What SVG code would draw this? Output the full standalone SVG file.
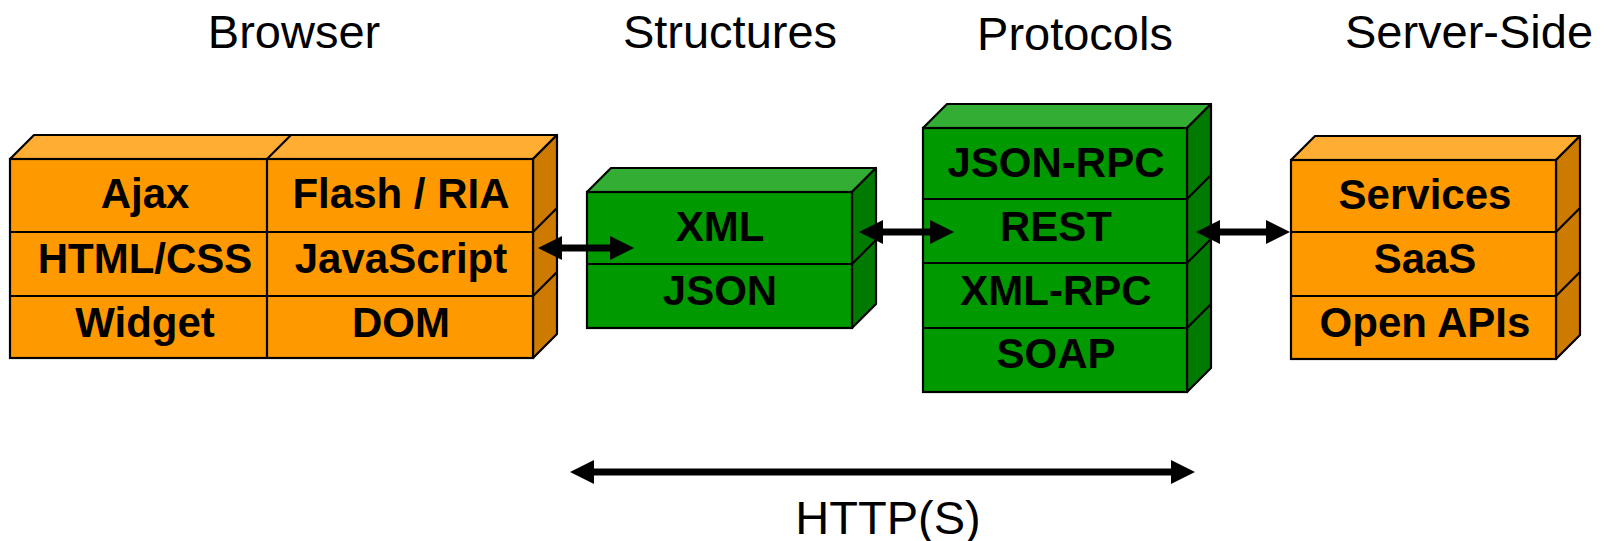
<svg xmlns="http://www.w3.org/2000/svg" width="1606" height="541" viewBox="0 0 1606 541">
  <style>
    text { font-family: "Liberation Sans", Arial, sans-serif; fill: #000; }
    .hdr { font-size: 47px; text-anchor: middle; }
    .lbl { font-size: 42px; font-weight: bold; text-anchor: middle; }
    .ln { stroke: #000; stroke-width: 2.2; fill: none; }
    .o-front { fill: #FF9900; stroke: #000; stroke-width: 2.2; }
    .o-top { fill: #FFAD33; stroke: #000; stroke-width: 2.2; stroke-linejoin: round; }
    .o-side { fill: #CC7A00; stroke: #000; stroke-width: 2.2; stroke-linejoin: round; }
    .g-front { fill: #009900; stroke: #000; stroke-width: 2.2; }
    .g-top { fill: #33AD33; stroke: #000; stroke-width: 2.2; stroke-linejoin: round; }
    .g-side { fill: #007A00; stroke: #000; stroke-width: 2.2; stroke-linejoin: round; }
    .arrow { stroke: #000; stroke-width: 7; fill: none; marker-start: url(#head); marker-end: url(#head); }
  </style>
  <defs>
    <marker id="head" markerUnits="userSpaceOnUse" markerWidth="24" markerHeight="24" refX="0" refY="12" orient="auto-start-reverse" overflow="visible">
      <path d="M0,0 L24,12 L0,24 Z" fill="#000"/>
    </marker>
  </defs>

  <rect width="1606" height="541" fill="#fff"/>

  <!-- column headings -->
  <g id="headings">
    <text class="hdr" x="294" y="48">Browser</text>
    <text class="hdr" x="730" y="48">Structures</text>
    <text class="hdr" x="1075" y="50">Protocols</text>
    <text class="hdr" x="1469" y="48">Server-Side</text>
  </g>

  <!-- Browser block -->
  <g id="browser">
    <polygon class="o-top" points="10,159 34,135 557,135 533,159"/>
    <polygon class="o-side" points="533,159 557,135 557,334 533,358"/>
    <rect class="o-front" x="10" y="159" width="523" height="199"/>
    <path class="ln" d="M10,232 H533 M10,296 H533 M267,159 V358 M267,159 L291,135 M533,232 L557,208 M533,296 L557,272"/>
    <text class="lbl" x="145" y="208">Ajax</text>
    <text class="lbl" x="401" y="208">Flash / RIA</text>
    <text class="lbl" x="145" y="273">HTML/CSS</text>
    <text class="lbl" x="401" y="273">JavaScript</text>
    <text class="lbl" x="145" y="337">Widget</text>
    <text class="lbl" x="401" y="337">DOM</text>
  </g>

  <!-- Structures block -->
  <g id="structures">
    <polygon class="g-top" points="587,192 611,168 876,168 852,192"/>
    <polygon class="g-side" points="852,192 876,168 876,304 852,328"/>
    <rect class="g-front" x="587" y="192" width="265" height="136"/>
    <path class="ln" d="M587,264 H852 M852,264 L876,240"/>
    <text class="lbl" x="720" y="241">XML</text>
    <text class="lbl" x="720" y="305">JSON</text>
  </g>

  <!-- Protocols block -->
  <g id="protocols">
    <polygon class="g-top" points="923,128 947,104 1211,104 1187,128"/>
    <polygon class="g-side" points="1187,128 1211,104 1211,368 1187,392"/>
    <rect class="g-front" x="923" y="128" width="264" height="264"/>
    <path class="ln" d="M923,199 H1187 M923,263 H1187 M923,328 H1187 M1187,199 L1211,175 M1187,263 L1211,239 M1187,328 L1211,304"/>
    <text class="lbl" x="1056" y="177">JSON-RPC</text>
    <text class="lbl" x="1056" y="241">REST</text>
    <text class="lbl" x="1056" y="305">XML-RPC</text>
    <text class="lbl" x="1056" y="368">SOAP</text>
  </g>

  <!-- Server-side block -->
  <g id="server-side">
    <polygon class="o-top" points="1291,160 1315,136 1580,136 1556,160"/>
    <polygon class="o-side" points="1556,160 1580,136 1580,335 1556,359"/>
    <rect class="o-front" x="1291" y="160" width="265" height="199"/>
    <path class="ln" d="M1291,232 H1556 M1291,296 H1556 M1556,232 L1580,208 M1556,296 L1580,272"/>
    <text class="lbl" x="1425" y="209">Services</text>
    <text class="lbl" x="1425" y="273">SaaS</text>
    <text class="lbl" x="1425" y="337">Open APIs</text>
  </g>

  <!-- connectors -->
  <g id="connectors">
    <line class="arrow" x1="562" y1="248" x2="610" y2="248"/>
    <line class="arrow" x1="883" y1="232" x2="930" y2="232"/>
    <line class="arrow" x1="1220" y1="232" x2="1266" y2="232"/>
    <line class="arrow" x1="594" y1="472" x2="1171" y2="472"/>
    <text class="hdr" x="888" y="534">HTTP(S)</text>
  </g>
</svg>
